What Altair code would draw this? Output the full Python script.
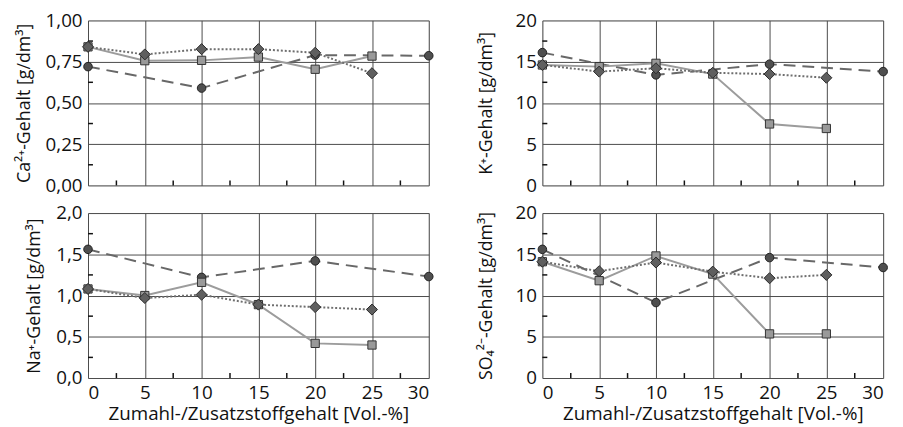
import altair as alt
import pandas as pd

# x positions (Zumahl-/Zusatzstoffgehalt, Vol.-%)
x_circle = [0, 10, 20, 30]
x_other = [0, 5, 10, 15, 20, 25]

# Ca2+ content [g/dm3]
ca_circle = [0.72, 0.59, 0.79, 0.786]
ca_square = [0.84, 0.756, 0.758, 0.778, 0.704, 0.784]
ca_diamond = [0.84, 0.794, 0.826, 0.826, 0.804, 0.68]

# K+ content [g/dm3]
k_circle = [16.1, 13.4, 14.7, 13.8]
k_square = [14.6, 14.4, 14.8, 13.5, 7.45, 6.9]
k_diamond = [14.6, 13.8, 14.2, 13.65, 13.5, 13.05]

# Na+ content [g/dm3]
na_circle = [1.56, 1.22, 1.42, 1.23]
na_square = [1.08, 1.0, 1.16, 0.89, 0.42, 0.40]
na_diamond = [1.08, 0.97, 1.01, 0.89, 0.86, 0.83]

# SO4 2- content [g/dm3]
so4_circle = [15.6, 9.15, 14.6, 13.4]
so4_square = [14.1, 11.8, 14.8, 12.6, 5.35, 5.35]
so4_diamond = [14.1, 12.95, 14.0, 12.9, 12.1, 12.5]

x_ticks = [0, 5, 10, 15, 20, 25, 30]
x_title = "Zumahl-/Zusatzstoffgehalt [Vol.-%]"

W, H = 345, 167
FONT = "Open Sans"


def build_df(circle, square, diamond):
    rows = []
    for xv, yv in zip(x_circle, circle):
        rows.append({"x": xv, "y": yv, "s": "circle"})
    for xv, yv in zip(x_other, square):
        rows.append({"x": xv, "y": yv, "s": "square"})
    for xv, yv in zip(x_other, diamond):
        rows.append({"x": xv, "y": yv, "s": "diamond"})
    return pd.DataFrame(rows)


def panel(circle, square, diamond, ymax, ystep, decimals, ytitle, show_x, tpad):
    df = build_df(circle, square, diamond)
    xscale = alt.Scale(domain=[0, 30], nice=False, zero=False)
    yscale = alt.Scale(domain=[0, ymax], nice=False)
    n = int(round(ymax / ystep))
    ymajor = [round(i * ystep, 4) for i in range(n + 1)]
    yminor = [round((i + 0.5) * ystep, 4) for i in range(n)]
    xminor = [2.5 + 5 * i for i in range(6)]
    if decimals > 0:
        lexpr = "replace(format(datum.value, '.%df'), '.', ',')" % decimals
    else:
        lexpr = "format(datum.value, 'd')"

    xaxis_kwargs = dict(values=x_ticks, grid=True, gridColor="#4a4a4a", gridWidth=1,
                        domain=False, ticks=False)
    if show_x:
        xaxis = alt.Axis(title=x_title, labels=True, labelFont=FONT, labelFontSize=19,
                         labelColor="#111", titleFont=FONT, titleFontSize=19,
                         titleFontWeight="normal", titleColor="#111",
                         labelPadding=6, titlePadding=2, **xaxis_kwargs)
    else:
        xaxis = alt.Axis(title=None, labels=False, **xaxis_kwargs)
    yaxis = alt.Axis(values=ymajor, grid=True, gridColor="#4a4a4a", gridWidth=1,
                     domain=False, ticks=False, labelExpr=lexpr, labelFont=FONT,
                     labelFontSize=19, labelColor="#111", labelPadding=6,
                     title=ytitle, titleFont=FONT, titleFontSize=18,
                     titleFontWeight="normal", titleColor="#111", titlePadding=tpad)

    base = alt.Chart(df)
    enc_x = alt.X("x:Q", scale=xscale, axis=xaxis)
    enc_y = alt.Y("y:Q", scale=yscale, axis=yaxis)

    line_c = base.transform_filter("datum.s == 'circle'").mark_line(
        color="#686868", strokeWidth=2, strokeDash=[12, 7]).encode(x=enc_x, y=enc_y)
    line_s = base.transform_filter("datum.s == 'square'").mark_line(
        color="#9c9c9c", strokeWidth=2).encode(x="x:Q", y="y:Q")
    line_d = base.transform_filter("datum.s == 'diamond'").mark_line(
        color="#6e6e6e", strokeWidth=2, strokeDash=[2, 2]).encode(x="x:Q", y="y:Q")
    pt_c = base.transform_filter("datum.s == 'circle'").mark_point(
        shape="circle", filled=True, size=75, fill="#4f4f4f", stroke="#222",
        strokeWidth=1, opacity=1).encode(x="x:Q", y="y:Q")
    pt_s = base.transform_filter("datum.s == 'square'").mark_point(
        shape="square", filled=True, size=70, fill="#999999", stroke="#333",
        strokeWidth=1, opacity=1).encode(x="x:Q", y="y:Q")
    pt_d = base.transform_filter("datum.s == 'diamond'").mark_point(
        shape="diamond", filled=True, size=125, fill="#5f5f5f", stroke="#2a2a2a",
        strokeWidth=1, opacity=1).encode(x="x:Q", y="y:Q")

    xm = alt.Chart(pd.DataFrame({"x": xminor})).mark_rule(
        color="#111", strokeWidth=1.5).encode(
        x=alt.X("x:Q"), y=alt.value(H), y2=alt.value(H - 5))
    ym = alt.Chart(pd.DataFrame({"y": yminor})).mark_rule(
        color="#111", strokeWidth=1.5).encode(
        y=alt.Y("y:Q"), x=alt.value(0), x2=alt.value(5))

    return alt.layer(line_c, line_s, line_d, xm, ym, pt_c, pt_s, pt_d).properties(
        width=W, height=H)


p1 = panel(ca_circle, ca_square, ca_diamond, 1.0, 0.25, 2, "Ca²⁺-Gehalt [g/dm³]", False, 12)
p2 = panel(k_circle, k_square, k_diamond, 20, 5, 0, "K⁺-Gehalt [g/dm³]", False, 20)
p3 = panel(na_circle, na_square, na_diamond, 2.0, 0.5, 1, "Na⁺-Gehalt [g/dm³]", True, 12)
p4 = panel(so4_circle, so4_square, so4_diamond, 20, 5, 0, "SO₄²⁻-Gehalt [g/dm³]", True, 20)

chart = alt.concat(p1, p2, p3, p4, columns=2,
                   spacing=alt.RowColnumber(row=28, column=115),
                   bounds="flush").properties(
    padding={"left": 6, "top": 0, "right": 5, "bottom": 0}
).configure_view(stroke="#000", strokeWidth=1.5).configure(background="white")

chart.save("out.html", embed_options={"renderer": "svg", "actions": False})
